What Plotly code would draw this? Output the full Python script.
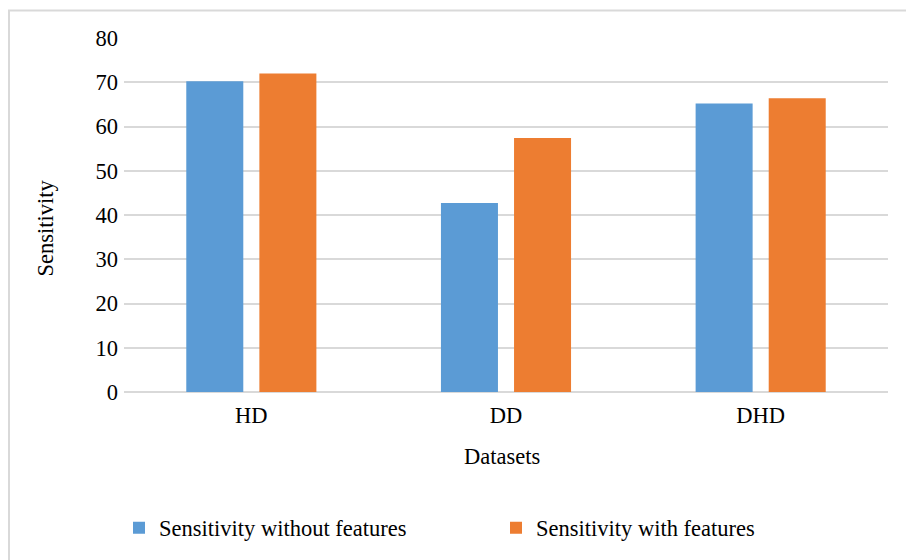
import plotly.graph_objects as go

categories = ["HD", "DD", "DHD"]
without_features = [70.2, 42.7, 65.2]
with_features = [72.0, 57.4, 66.4]
series_names = ["Sensitivity without features", "Sensitivity with features"]
y_ticks = [0, 10, 20, 30, 40, 50, 60, 70, 80]

FONT = "Liberation Serif, Times New Roman, serif"
GRID = "#d9d9d9"
FS = 22.5

L, R, T, B = 124, 18, 38, 167
PW = 906 - L - R
PH = 560 - T - B
BOTTOM = 560 - B

fig = go.Figure()
fig.add_trace(go.Bar(x=categories, y=without_features, name=series_names[0],
                     marker=dict(color="#5B9BD5", line=dict(width=0))))
fig.add_trace(go.Bar(x=categories, y=with_features, name=series_names[1],
                     marker=dict(color="#ED7D31", line=dict(width=0))))

fig.update_layout(
    width=906, height=560,
    margin=dict(l=L, r=R, t=T, b=B),
    paper_bgcolor="white", plot_bgcolor="white",
    font=dict(family=FONT, size=FS, color="black"),
    barmode="group", bargap=0.426, bargroupgap=0.22,
    showlegend=True,
    legend=dict(orientation="h", x=(119 - L) / PW, xanchor="left", y=(BOTTOM - 528) / PH,
                yanchor="middle", font=dict(size=FS), itemwidth=30, entrywidth=332,
                entrywidthmode="pixels", bgcolor="rgba(0,0,0,0)"),
    xaxis=dict(showgrid=False, showline=False, zeroline=False, ticks="",
               ticklabelstandoff=7, tickfont=dict(size=FS)),
    yaxis=dict(range=[0, 80], tickvals=y_ticks, showgrid=True, gridcolor=GRID, gridwidth=2,
               zeroline=True, zerolinecolor=GRID, zerolinewidth=2, showline=False,
               ticks="", ticklabelstandoff=5, tickfont=dict(size=FS)),
    annotations=[
        dict(text="Datasets", xref="paper", yref="paper", x=(502 - L) / PW, y=(BOTTOM - 458) / PH,
             showarrow=False, xanchor="center", yanchor="middle", font=dict(size=FS)),
        dict(text="Sensitivity", xref="paper", yref="paper", x=(45 - L) / PW,
             y=(BOTTOM - 229) / PH, showarrow=False, textangle=-90,
             xanchor="center", yanchor="middle", font=dict(size=FS)),
    ],
    shapes=[
        dict(type="rect", xref="paper", yref="paper", x0=(9 - L) / PW, x1=(912 - L) / PW,
             y0=(BOTTOM - 570) / PH, y1=(BOTTOM - 10.5) / PH,
             line=dict(color=GRID, width=2), fillcolor="rgba(0,0,0,0)", layer="below"),
    ],
)

fig.write_html("out.html")
